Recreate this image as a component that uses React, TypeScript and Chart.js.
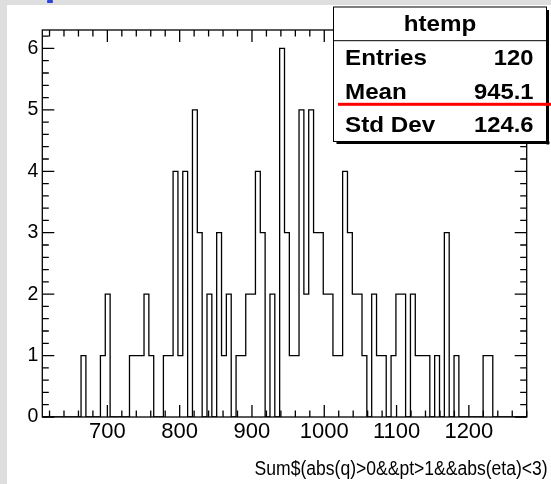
import React, { useEffect, useRef } from "react";
import { Chart, registerables } from "chart.js";

Chart.register(...registerables);

// Histogram binning (100 equal bins)
const xMin = 610;
const xMax = 1280;
const yMax = 6.3;

// Entries per bin, left to right
const binCounts = [
  0, 0, 0, 0, 0, 0, 0, 0, 1, 0,
  0, 0, 1, 2, 0, 0, 0, 0, 1, 1,
  1, 2, 1, 0, 0, 1, 1, 4, 1, 4,
  0, 5, 3, 0, 2, 0, 3, 1, 2, 0,
  1, 1, 2, 2, 4, 3, 0, 2, 0, 6,
  3, 1, 1, 5, 2, 5, 3, 3, 2, 2,
  1, 1, 4, 3, 2, 2, 1, 0, 2, 1,
  1, 0, 1, 2, 2, 0, 2, 1, 1, 1,
  0, 1, 0, 3, 0, 1, 0, 0, 0, 0,
  0, 1, 1, 0, 0, 0, 0, 0, 0, 0,
];

const xTickLabels = [700, 800, 900, 1000, 1100, 1200];
const yTickLabels = [0, 1, 2, 3, 4, 5, 6];
const xMinorStep = 20;
const yMinorStep = 0.2;

const xAxisTitle = "Sum$(abs(q)>0&&pt>1&&abs(eta)<3)";

const statsTitle = "htemp";
const statsNames = ["Entries", "Mean", "Std Dev"];
const statsValues = ["120", "945.1", "124.6"];

const FONT = "'Liberation Sans', Arial, Helvetica, sans-serif";
const LINE_W = 1.3;

// Step outline points: each bin's count held from its left edge to the next edge
function histogramPoints() {
  const width = (xMax - xMin) / binCounts.length;
  const pts = binCounts.map((c, i) => ({ x: xMin + i * width, y: c }));
  pts.push({ x: xMax, y: binCounts[binCounts.length - 1] });
  return pts;
}

// Text with a horizontal scale factor
function scaledText(ctx: CanvasRenderingContext2D, text: string, x: number, y: number, align: CanvasTextAlign, sx: number) {
  ctx.save();
  ctx.translate(x, y);
  ctx.scale(sx, 1);
  ctx.textAlign = align;
  ctx.fillText(text, 0, 0);
  ctx.restore();
}

// Frame with inward ticks on all four sides, plus the axis title
const framePlugin = {
  id: "rootFrame",
  afterDatasetsDraw(chart: any) {
    const { ctx, chartArea, scales } = chart;
    const { left, right, top, bottom } = chartArea;
    const xs = scales.x;
    const ys = scales.y;
    ctx.save();
    ctx.strokeStyle = "#000";
    ctx.lineWidth = LINE_W;
    ctx.strokeRect(left, top, right - left, bottom - top);
    ctx.beginPath();
    const majorX = 12;
    const minorX = 6.5;
    for (let v = Math.ceil(xMin / xMinorStep) * xMinorStep; v <= xMax; v += xMinorStep) {
      const px = xs.getPixelForValue(v);
      const len = v % 100 === 0 ? majorX : minorX;
      ctx.moveTo(px, bottom);
      ctx.lineTo(px, bottom - len);
      ctx.moveTo(px, top);
      ctx.lineTo(px, top + len);
    }
    const majorY = 12;
    const minorY = 6.5;
    const nY = Math.floor(yMax / yMinorStep + 1e-9);
    for (let i = 0; i <= nY; i++) {
      const v = i * yMinorStep;
      const py = ys.getPixelForValue(v);
      const len = i % 5 === 0 ? majorY : minorY;
      ctx.moveTo(left, py);
      ctx.lineTo(left + len, py);
      ctx.moveTo(right, py);
      ctx.lineTo(right - len, py);
    }
    ctx.stroke();

    // x axis title, right-aligned past the end of the axis
    ctx.fillStyle = "#000";
    ctx.font = `19.5px ${FONT}`;
    ctx.textBaseline = "alphabetic";
    scaledText(ctx, xAxisTitle, right + 21, 475, "right", 0.9);
    ctx.restore();
  },
};

// Statistics box in the top right corner
const statsPlugin = {
  id: "statsBox",
  afterDraw(chart: any) {
    const { ctx } = chart;
    const l = 333.5;
    const t = 7;
    const r = 546.5;
    const b = 141.5;
    const sep = 40.7;
    ctx.save();
    ctx.fillStyle = "#000";
    ctx.fillRect(l + 3, b, r - l, 2.5);
    ctx.fillRect(r, t + 3, 2.5, b - t);
    ctx.fillStyle = "#fff";
    ctx.fillRect(l, t, r - l, b - t);
    ctx.strokeStyle = "#000";
    ctx.lineWidth = 1;
    ctx.strokeRect(l, t, r - l, b - t);
    ctx.beginPath();
    ctx.moveTo(l, sep);
    ctx.lineTo(r, sep);
    ctx.stroke();

    ctx.fillStyle = "#000";
    ctx.textBaseline = "alphabetic";
    ctx.font = `bold 22px ${FONT}`;
    scaledText(ctx, statsTitle, (l + r) / 2, 31, "center", 1.1);
    const rowH = (b - sep) / statsNames.length;
    statsNames.forEach((name, i) => {
      const base = sep + rowH * (i + 1) - 9.3;
      scaledText(ctx, name, 345, base, "left", 1.1);
      scaledText(ctx, statsValues[i], 533.5, base, "right", 1.08);
    });

    // red underline across the box
    ctx.fillStyle = "#ff0000";
    ctx.fillRect(338, 102.8, 213, 3);
    ctx.restore();
  },
};

export default function App() {
  const canvasRef = useRef<HTMLCanvasElement | null>(null);

  useEffect(() => {
    const canvas = canvasRef.current;
    if (!canvas) return;
    const chart = new Chart(canvas, {
      type: "line",
      data: {
        datasets: [
          {
            data: histogramPoints(),
            stepped: "before",
            borderColor: "#000",
            borderWidth: LINE_W,
            pointRadius: 0,
            fill: false,
          },
        ],
      },
      options: {
        animation: false,
        responsive: false,
        devicePixelRatio: 1,
        layout: { padding: { left: 0, top: 30, right: 24.3, bottom: 0 } },
        plugins: {
          legend: { display: false },
          tooltip: { enabled: false },
        },
        scales: {
          x: {
            type: "linear",
            position: "bottom",
            min: xMin,
            max: xMax,
            grid: { display: false, drawTicks: false },
            border: { display: false },
            afterBuildTicks: (s: any) => {
              s.ticks = xTickLabels.map((v) => ({ value: v }));
            },
            afterFit: (s: any) => {
              s.height = 67;
            },
            ticks: {
              autoSkip: false,
              maxRotation: 0,
              padding: 2,
              color: "#000",
              font: { family: FONT, size: 22 },
              callback: (v: any) => String(v),
            },
          },
          y: {
            type: "linear",
            min: 0,
            max: yMax,
            grid: { display: false, drawTicks: false },
            border: { display: false },
            afterBuildTicks: (s: any) => {
              s.ticks = yTickLabels.map((v) => ({ value: v }));
            },
            afterFit: (s: any) => {
              s.width = 42.3;
            },
            ticks: {
              padding: 4,
              color: "#000",
              font: { family: FONT, size: 19.5 },
              callback: (v: any) => String(v),
            },
          },
        },
      } as any,
      plugins: [framePlugin, statsPlugin],
    });
    return () => chart.destroy();
  }, []);

  return (
    <div
      style={{
        position: "fixed",
        left: 0,
        top: 0,
        width: 551,
        height: 484,
        background: "#dedede",
        overflow: "hidden",
      }}
    >
      <div
        style={{
          position: "absolute",
          left: 7,
          top: 5,
          right: 0,
          bottom: 0,
          background: "#fff",
        }}
      />
      <div
        style={{
          position: "absolute",
          left: 47,
          top: 0,
          width: 6,
          height: 3,
          background: "#2b45d8",
          borderRadius: 1,
        }}
      />
      <canvas
        ref={canvasRef}
        width={551}
        height={484}
        style={{ position: "absolute", left: 0, top: 0 }}
      />
    </div>
  );
}
